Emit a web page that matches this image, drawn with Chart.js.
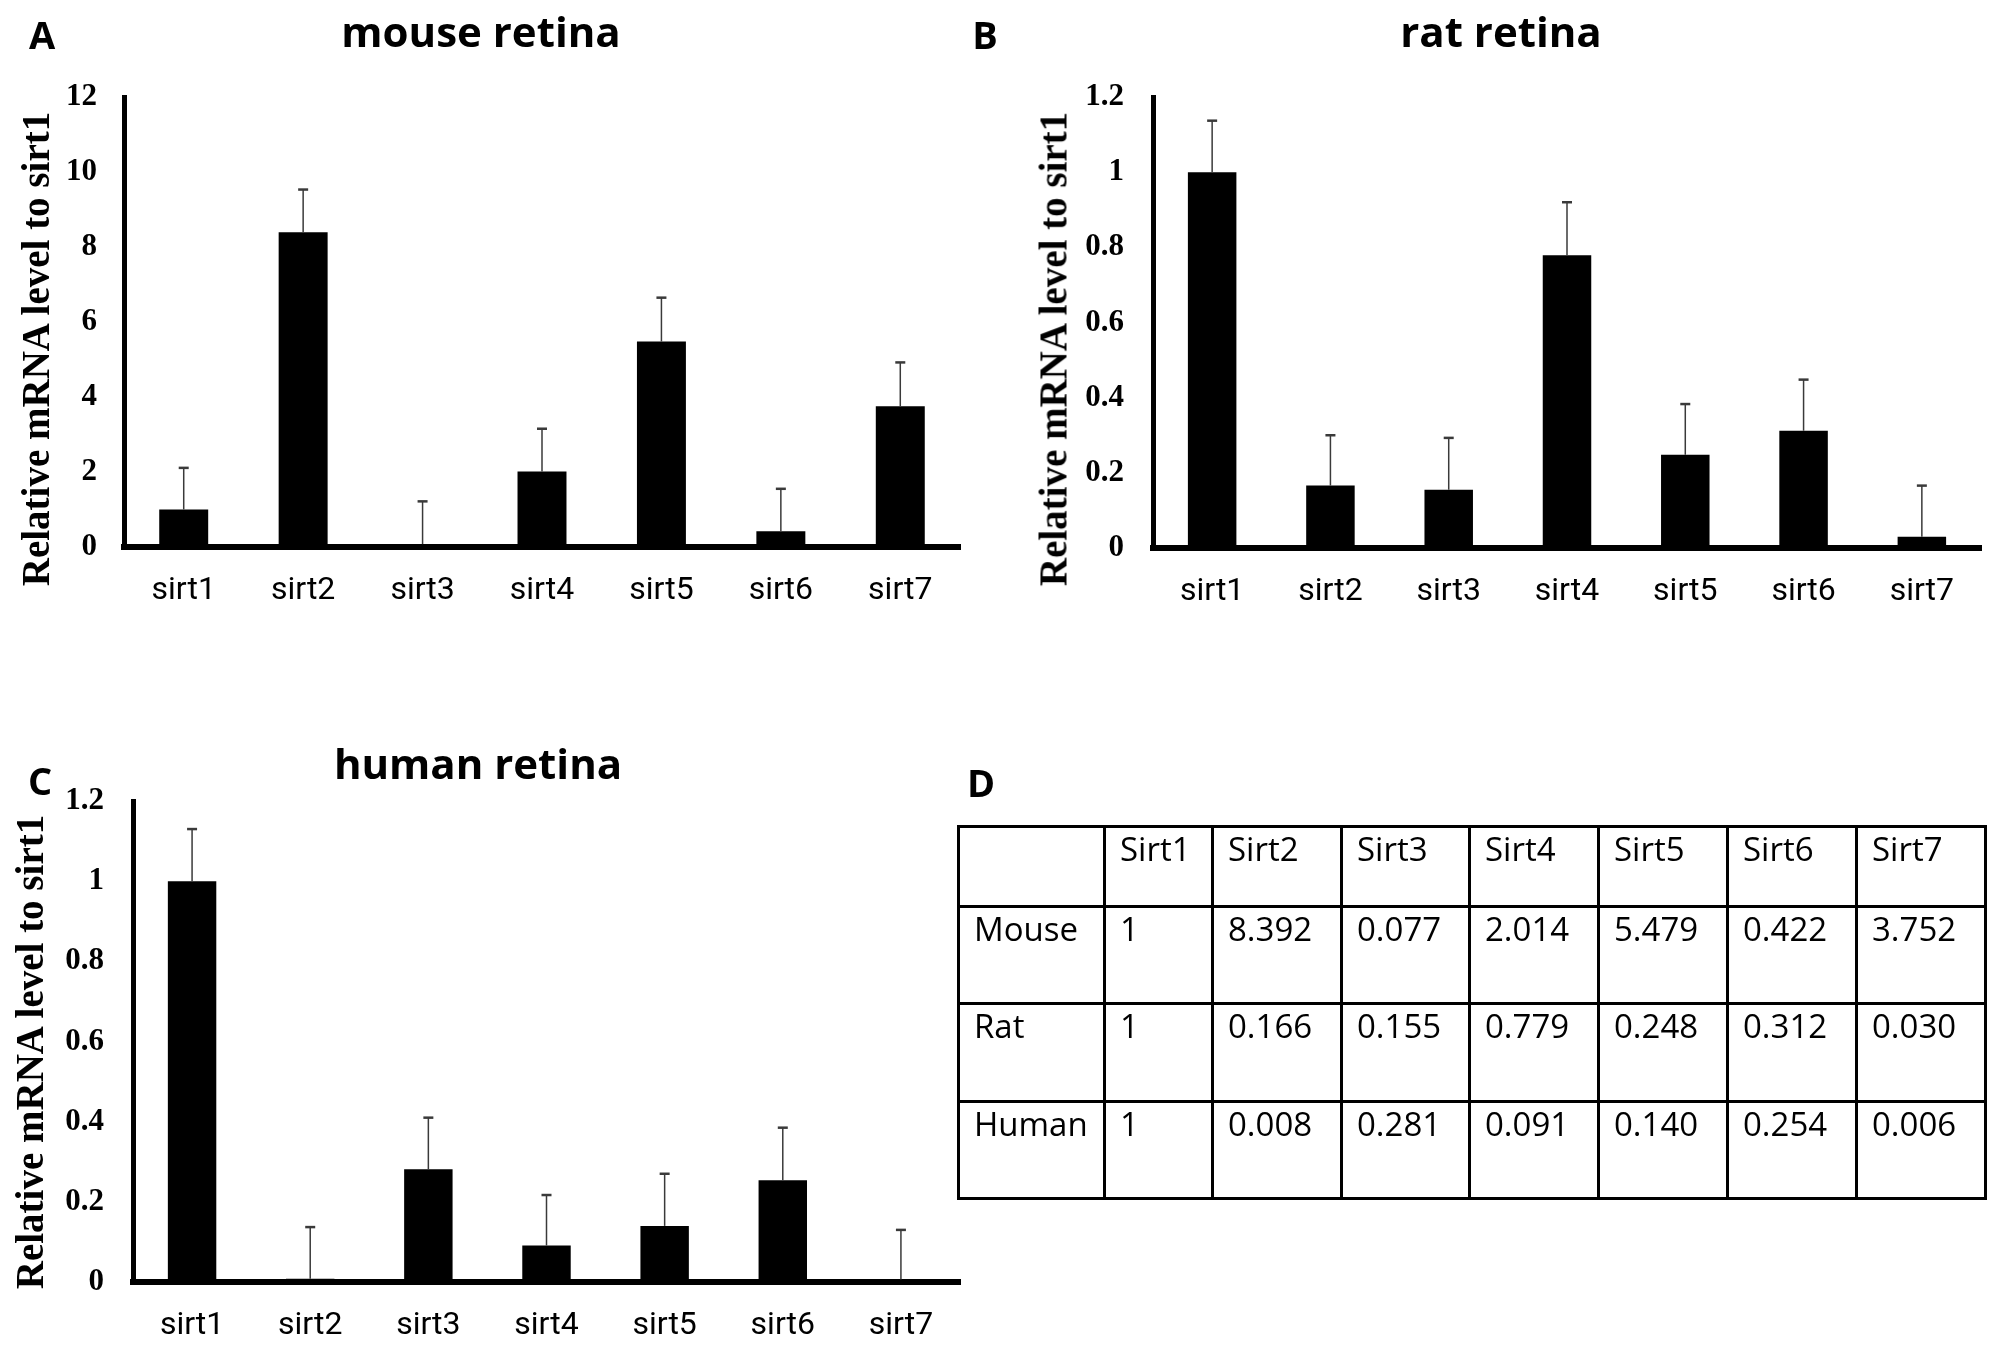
<!DOCTYPE html>
<html>
<head>
<meta charset="utf-8">
<script src="https://cdn.jsdelivr.net/npm/chart.js@4.4.1/dist/chart.umd.min.js"></script>
<style>
  body { margin: 0; background: #fff; width: 2007px; height: 1353px; position: relative; overflow: hidden; }
  canvas { position: absolute; }
  .txt { position: absolute; transform: translate(-50%, -50%); white-space: nowrap; color: #000; }
  .letter { font: bold 38px "Open Sans", sans-serif; }
  .title { font: bold 42px "Open Sans", sans-serif; }
  .ytitle { font: bold 39px "Liberation Serif", serif; transform: translate(-50%, -50%) rotate(-90deg); }
  table { position: absolute; left: 957px; top: 825px; border-collapse: collapse; font: 33px "Open Sans", sans-serif; }
  td { border: 3px solid #000; vertical-align: top; padding: 0 0 0 14px; line-height: 1.3; }
</style>
</head>
<body>
<canvas id="mouseChart" width="980" height="640" style="left:0px;top:0px"></canvas>
<canvas id="ratChart" width="1027" height="640" style="left:980px;top:0px"></canvas>
<canvas id="humanChart" width="980" height="653" style="left:0px;top:700px"></canvas>

<div class="txt letter" style="left:42px;top:34px">A</div>
<div class="txt letter" style="left:985px;top:34px">B</div>
<div class="txt letter" style="left:40px;top:780px">C</div>
<div class="txt letter" style="left:981px;top:782px">D</div>

<div class="txt title" style="left:481px;top:30px">mouse retina</div>
<div class="txt title" style="left:1501px;top:30px">rat retina</div>
<div class="txt title" style="left:478px;top:762px">human retina</div>

<div class="txt ytitle" style="left:35px;top:349px">Relative mRNA level to sirt1</div>
<div class="txt ytitle" style="left:1053px;top:349px">Relative mRNA level to sirt1</div>
<div class="txt ytitle" style="left:29px;top:1052px">Relative mRNA level to sirt1</div>

<table id="valueTable"></table>

<script>
// categories on the x axis
const sirtLabels = ["sirt1", "sirt2", "sirt3", "sirt4", "sirt5", "sirt6", "sirt7"];

// table header + row names
const tableHeader = ["Sirt1", "Sirt2", "Sirt3", "Sirt4", "Sirt5", "Sirt6", "Sirt7"];
const speciesNames = ["Mouse", "Rat", "Human"];

// relative mRNA level to sirt1 (same values as the table)
const mouseValues = [1, 8.392, 0.077, 2.014, 5.479, 0.422, 3.752];
const ratValues   = [1, 0.166, 0.155, 0.779, 0.248, 0.312, 0.030];
const humanValues = [1, 0.008, 0.281, 0.091, 0.140, 0.254, 0.006];

// upper error bar length
const mouseErrors = [1.11, 1.14, 1.14, 1.14, 1.17, 1.13, 1.17];
const ratErrors   = [0.137, 0.134, 0.138, 0.141, 0.135, 0.136, 0.136];
const humanErrors = [0.13, 0.129, 0.129, 0.126, 0.13, 0.131, 0.124];

// y axis ranges
const mouseTicks = { max: 12, step: 2 };
const ratTicks   = { max: 1.2, step: 0.2 };
const humanTicks = { max: 1.2, step: 0.2 };

// draws the upper error whiskers from the bar top using the chart's y scale
function makeErrorPlugin (errors) {
    return {
        id: 'errorBars',
        afterDatasetsDraw (chart) {
            const ctx = chart.ctx;
            const yScale = chart.scales.y;
            const values = chart.data.datasets[0].data;
            const meta = chart.getDatasetMeta(0);
            ctx.save();
            ctx.strokeStyle = '#3a3a3a';
            meta.data.forEach((bar, i) => {
                const yTop = yScale.getPixelForValue(values[i] + errors[i]);
                ctx.lineWidth = 1.5;
                ctx.beginPath(); ctx.moveTo(bar.x, bar.y); ctx.lineTo(bar.x, yTop); ctx.stroke();
                ctx.lineWidth = 2.5;
                ctx.beginPath(); ctx.moveTo(bar.x - 5, yTop); ctx.lineTo(bar.x + 5, yTop); ctx.stroke();
            });
            ctx.restore();
        }
    };
}

// one bar chart panel; area = {left, right, top, bottom} in canvas px
function makePanel (id, values, errors, range, area, yPad) {
    const canvas = document.getElementById(id);
    return new Chart(canvas, {
        type: 'bar',
        data: {
            labels: sirtLabels,
            datasets: [{ data: values, backgroundColor: '#000', borderWidth: 0,
                categoryPercentage: 1, barPercentage: 0.41 }]
        },
        options: {
            responsive: false,
            animation: false,
            devicePixelRatio: 1,
            layout: { padding: { left: 0, top: area.top, right: canvas.width - area.right, bottom: 0 } },
            plugins: { legend: { display: false }, tooltip: { enabled: false } },
            scales: {
                x: {
                    grid: { display: false, drawTicks: false },
                    border: { display: true, color: '#000', width: 6 },
                    ticks: { color: '#000', padding: 25, font: { family: 'Roboto', size: 32 } },
                    afterFit: (scale) => { scale.height = canvas.height - area.bottom; }
                },
                y: {
                    min: 0, max: range.max,
                    grid: { display: false, drawTicks: false },
                    border: { display: true, color: '#000', width: 5 },
                    ticks: {
                        stepSize: range.step, color: '#000', padding: yPad,
                        font: { family: 'Liberation Serif', size: 31, weight: 'bold' },
                        callback: (v) => String(+v.toFixed(1))
                    },
                    afterFit: (scale) => { scale.width = area.left; }
                }
            }
        },
        plugins: [makeErrorPlugin(errors)]
    });
}

makePanel('mouseChart', mouseValues, mouseErrors, mouseTicks, { left: 124, right: 960, top: 97, bottom: 547 }, 27);
makePanel('ratChart', ratValues, ratErrors, ratTicks, { left: 173, right: 1001, top: 97, bottom: 548 }, 29);
makePanel('humanChart', humanValues, humanErrors, humanTicks, { left: 133, right: 960, top: 101, bottom: 582 }, 29);

// table D, built from the same value arrays
const colWidths = [146, 108, 129, 128, 129, 129, 129, 129];
const rowHeights = [80, 97, 98, 97];
function fmt (v) { return v === 1 ? "1" : v.toFixed(3); }
const tableRows = [["", ...tableHeader],
    [speciesNames[0], ...mouseValues.map(fmt)],
    [speciesNames[1], ...ratValues.map(fmt)],
    [speciesNames[2], ...humanValues.map(fmt)]];
const table = document.getElementById('valueTable');
tableRows.forEach((row, r) => {
    const tr = document.createElement('tr');
    tr.style.height = rowHeights[r] + 'px';
    row.forEach((cell, c) => {
        const td = document.createElement('td');
        td.style.width = (colWidths[c] - 17) + 'px';
        td.textContent = cell;
        tr.appendChild(td);
    });
    table.appendChild(tr);
});
</script>
</body>
</html>
